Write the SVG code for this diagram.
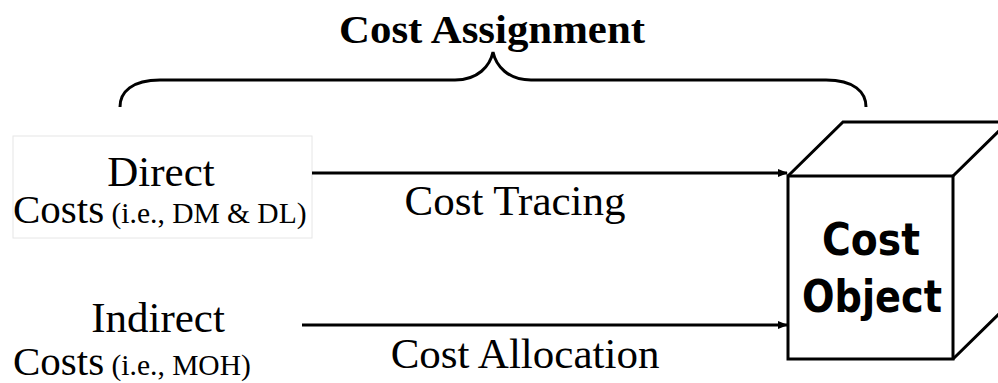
<svg xmlns="http://www.w3.org/2000/svg" width="998" height="383" viewBox="0 0 998 383">
<defs>
<style>
.t{font-family:"Liberation Serif","DejaVu Serif",serif;fill:#000}
.big{font-size:43px}
.mid{font-size:41px}
.small{font-size:29.5px}
.ln{stroke:#000;stroke-width:3;fill:none}
.co{font-family:"DejaVu Sans","Liberation Sans",sans-serif;font-weight:bold;font-size:44px;fill:#000}
</style>
<marker id="ah" markerWidth="10" markerHeight="8" refX="9" refY="4" orient="auto" markerUnits="userSpaceOnUse">
<path d="M0,0 L10,4 L0,8 Z" fill="#000"/>
</marker>
</defs>
<rect width="998" height="383" fill="#fff"/>
<g id="title">
<text class="t" x="492" y="43" font-size="39" font-weight="bold" text-anchor="middle" textLength="306" lengthAdjust="spacingAndGlyphs">Cost Assignment</text>
<path class="ln" d="M120,107 C120,92 132,80 160,80 L455,80 C478,80 490,66 493,52 C496,66 508,80 531,80 L826,80 C854,80 866,92 866,107"/>
</g>
<g id="direct">
<rect x="13" y="136" width="299" height="102" fill="#fff" stroke="#e6e6e6" stroke-width="1"/>
<text class="t big" x="161" y="186" text-anchor="middle">Direct</text>
<text class="t" x="13" y="223"><tspan class="mid">Costs</tspan><tspan class="small"> (i.e., DM &amp; DL)</tspan></text>
</g>
<g id="indirect">
<text class="t big" x="158" y="332" text-anchor="middle">Indirect</text>
<text class="t" x="13" y="375"><tspan class="mid">Costs</tspan><tspan class="small"> (i.e., MOH)</tspan></text>
</g>
<g id="cube">
<path class="ln" d="M788,176 L843,122 L1010,122 M953,176 L1008,122 M953,359 L1008,305"/>
<rect class="ln" x="788" y="176" width="165" height="183" fill="#fff"/>
<text class="co" x="871" y="255" text-anchor="middle" textLength="98" lengthAdjust="spacingAndGlyphs">Cost</text>
<text class="co" x="872" y="312" text-anchor="middle" textLength="140" lengthAdjust="spacingAndGlyphs">Object</text>
</g>
<g id="connectors">
<line class="ln" x1="312" y1="173" x2="787" y2="173" marker-end="url(#ah)"/>
<line class="ln" x1="302" y1="325" x2="787" y2="325" marker-end="url(#ah)"/>
<text class="t big" x="515" y="215" text-anchor="middle">Cost Tracing</text>
<text class="t big" x="525" y="368" text-anchor="middle">Cost Allocation</text>
</g>
</svg>
